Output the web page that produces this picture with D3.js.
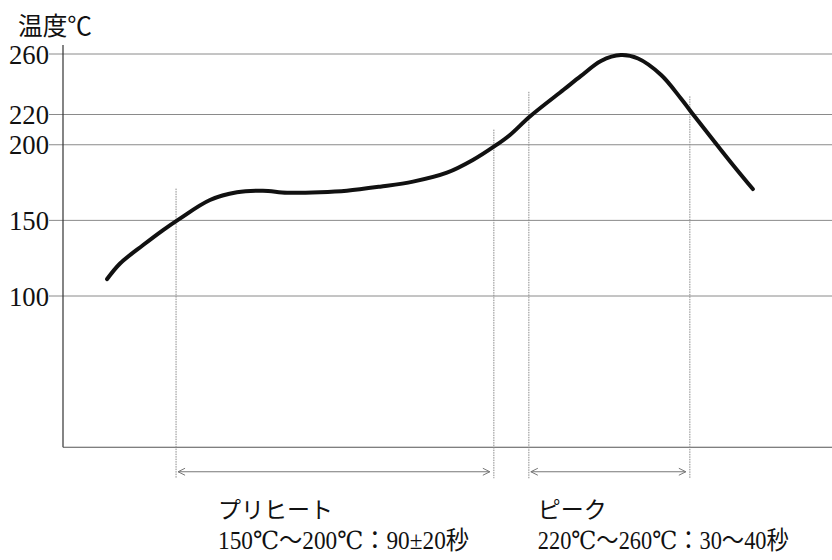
<!DOCTYPE html>
<html>
<head>
<meta charset="utf-8">
<script src="https://cdn.jsdelivr.net/npm/d3@7"></script>
<style>
  body { margin: 0; background: #fff; }
  svg { display: block; }
</style>
</head>
<body>
<svg id="chart" width="832" height="560"></svg>
<script>
// reflow profile, time (s) vs temperature (℃)
const curveTimes = [12.6, 16.3, 22.9, 28.6, 33.4, 42, 49.7, 57.1, 64, 73.4, 81.1, 90.6, 100, 109.7, 117.1, 123.4, 127.7, 133.4, 143.1, 148, 153.7, 159.4, 164.3, 170.9, 176.6, 180.6, 187.1, 192, 197.1];
const curveTemps = [111.2, 121.5, 133.7, 143.6, 151.2, 163.5, 168.6, 169.6, 168.3, 168.6, 169.6, 172.3, 175.6, 181.5, 189.9, 199.2, 206.5, 218.7, 236.5, 245.5, 255.4, 259.3, 257, 246.1, 230.4, 218.3, 199.2, 185, 170.7];

const yTicks = [100, 150, 200, 220, 260];

// dotted marker lines: where they stand and how high they reach
const markerTimes = [32.3, 123.1, 133.1, 179.1];
const markerTops = [171, 210, 235, 232];

const zones = [
  { name: "プリヒート", range: "150℃〜200℃：90±20秒", from: 0, to: 1 },
  { name: "ピーク", range: "220℃〜260℃：30〜40秒", from: 2, to: 3 }
];

const svg = d3.select("#chart");
const serif = "'Liberation Serif', 'DejaVu Serif', 'Noto Sans CJK JP', serif";

const x = d3.scaleLinear().domain([0, 220]).range([63, 833]);
const y = d3.scaleLinear().domain([0, 260]).range([447.25, 54]);

//gridlines + tick labels
const grid = svg.append("g");
grid.selectAll("line")
    .data(yTicks)
    .join("line")
    .attr("x1", 49)
    .attr("x2", 832)
    .attr("y1", d => y(d))
    .attr("y2", d => y(d))
    .attr("stroke", "#8a8a8a")
    .attr("stroke-width", 1);

grid.selectAll("text")
    .data(yTicks)
    .join("text")
    .attr("x", 49)
    .attr("y", d => y(d))
    .attr("dy", "0.34em")
    .attr("text-anchor", "end")
    .attr("font-family", serif)
    .attr("font-size", 28)
    .attr("fill", "#111")
    .attr("textLength", 40)
    .attr("lengthAdjust", "spacingAndGlyphs")
    .text(d => d);

//axes
svg.append("line")
    .attr("x1", x(0)).attr("x2", x(0))
    .attr("y1", 45).attr("y2", y(0))
    .attr("stroke", "#333").attr("stroke-width", 1.2);
svg.append("line")
    .attr("x1", x(0)).attr("x2", 832)
    .attr("y1", y(0)).attr("y2", y(0))
    .attr("stroke", "#555").attr("stroke-width", 1.2);

svg.append("text")
    .attr("x", 18)
    .attr("y", 35)
    .attr("font-family", "'Noto Sans CJK JP', " + serif)
    .attr("font-size", 25)
    .attr("fill", "#111")
    .attr("textLength", 74)
    .attr("lengthAdjust", "spacingAndGlyphs")
    .text("温度℃");

//dotted markers
const markerBottom = y(0) + 31;
svg.append("g").selectAll("line")
    .data(markerTimes)
    .join("line")
    .attr("x1", d => x(d))
    .attr("x2", d => x(d))
    .attr("y1", (d, i) => y(markerTops[i]))
    .attr("y2", markerBottom)
    .attr("stroke", "#8a8a8a")
    .attr("stroke-width", 1)
    .attr("stroke-dasharray", "1.5,1");

//range arrows + labels
const arrowY = y(0) + 24.5;
const zoneG = svg.append("g");
zones.forEach((z, i) => {
    const x1 = x(markerTimes[z.from]) + 2;
    const x2 = x(markerTimes[z.to]) - 4;
    const g = zoneG.append("g").attr("stroke", "#777").attr("fill", "none").attr("stroke-width", 1);
    g.append("line").attr("x1", x1).attr("x2", x2).attr("y1", arrowY).attr("y2", arrowY);
    g.append("path").attr("d", `M${x1 + 7},${arrowY - 3.5}L${x1},${arrowY}L${x1 + 7},${arrowY + 3.5}`);
    g.append("path").attr("d", `M${x2 - 7},${arrowY - 3.5}L${x2},${arrowY}L${x2 - 7},${arrowY + 3.5}`);

    const tx = x(markerTimes[z.from]) + (i == 0 ? 42 : 9);
    zoneG.append("text")
        .attr("x", tx)
        .attr("y", 518)
        .attr("font-family", "'Noto Sans CJK JP', sans-serif")
        .attr("font-size", 23)
        .attr("fill", "#111")
        .text(z.name);
    zoneG.append("text")
        .attr("x", tx)
        .attr("y", 549)
        .attr("font-family", serif)
        .attr("font-size", 25)
        .attr("fill", "#111")
        .attr("textLength", 251)
        .attr("lengthAdjust", "spacingAndGlyphs")
        .text(z.range);
});

//the profile curve
const line = d3.line()
    .x((d, i) => x(curveTimes[i]))
    .y(d => y(d))
    .curve(d3.curveCatmullRom);

svg.append("path")
    .datum(curveTemps)
    .attr("d", line)
    .attr("fill", "none")
    .attr("stroke", "#111")
    .attr("stroke-width", 4)
    .attr("stroke-linecap", "round")
    .attr("stroke-linejoin", "round");
</script>
</body>
</html>
